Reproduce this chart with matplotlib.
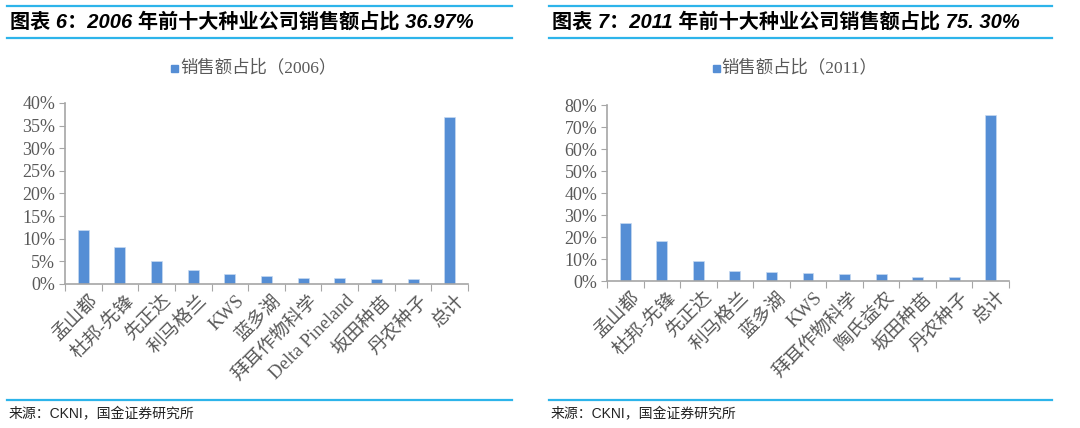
"""
Top-10 seed companies' sales share, 2006 vs 2011
"""
import matplotlib
matplotlib.use('Agg')
import matplotlib.pyplot as plt
from matplotlib.ticker import FuncFormatter
from matplotlib.lines import Line2D
from matplotlib.patches import Rectangle

plt.rcParams['font.family'] = ['Noto Sans CJK SC', 'DejaVu Sans']

# 2006 data
cats_2006 = ['孟山都', '杜邦-先锋', '先正达', '利马格兰', 'KWS', '蓝多湖',
             '拜耳作物科学', 'Delta Pineland', '坂田种苗', '丹农种子', '总计']
share_2006 = [11.9, 8.2, 5.1, 3.0, 2.2, 1.8, 1.3, 1.3, 1.1, 1.0, 36.97]

# 2011 data
cats_2011 = ['孟山都', '杜邦-先锋', '先正达', '利马格兰', '蓝多湖', 'KWS',
             '拜耳作物科学', '陶氏益农', '坂田种苗', '丹农种子', '总计']
share_2011 = [26.2, 18.3, 9.2, 4.7, 3.9, 3.5, 3.2, 3.0, 1.7, 1.6, 75.3]

BAR = '#558ED5'
LINE = '#2DB4EA'
GRAY = '#595959'
AXIS = '#A6A6A6'
SERIF_CJK = ['Liberation Serif', 'Noto Sans CJK SC']

fig = plt.figure(figsize=(10.8, 4.28), dpi=100)


def px_x(x):
    return x / 1080


def px_y(y):
    return 1 - y / 428


def draw_panel(rect, cats, vals, ymax, step, title, legend, x0, x1):
    ax = fig.add_axes(rect)
    xs = range(len(cats))
    ax.bar(xs, vals, width=0.3, color=BAR, edgecolor='#C6D9F1', linewidth=0.5)
    ax.set_xlim(-0.5, len(cats) - 0.5)
    ax.set_ylim(0, ymax)
    ax.set_yticks(range(0, ymax + 1, step))
    ax.yaxis.set_major_formatter(FuncFormatter(lambda v, p: f'{v:.0f}%'))
    for lab in ax.get_yticklabels():
        lab.set_family(['Liberation Serif'])
        lab.set_fontsize(13)
        lab.set_color(GRAY)
    ax.tick_params(axis='y', length=4, color=AXIS, pad=3)
    # category boundary ticks on x
    ax.set_xticks([i - 0.5 for i in range(len(cats) + 1)])
    ax.set_xticklabels([])
    ax.tick_params(axis='x', length=5, color=AXIS, direction='out')
    for i, c in enumerate(cats):
        ax.text(i + 0.15, -0.045 * ymax, c, rotation=45, rotation_mode='anchor',
                ha='right', va='top', fontsize=13.5, color=GRAY,
                family=SERIF_CJK)
    for s in ['top', 'right']:
        ax.spines[s].set_visible(False)
    for s in ['left', 'bottom']:
        ax.spines[s].set_color(AXIS)
        ax.spines[s].set_linewidth(1.2)

    # legend: square marker + label
    lx = rect[0] + rect[2] * 0.285
    fig.patches.append(Rectangle((lx - px_x(9), px_y(72)), px_x(7), 7 / 428,
                                 transform=fig.transFigure, color=BAR))
    fig.text(lx, px_y(68), legend, ha='left', va='center', fontsize=12.5,
             color=GRAY, family=SERIF_CJK)

    # header / footer rules and text
    for y in (6, 38, 400):
        fig.add_artist(Line2D([px_x(x0), px_x(x1)], [px_y(y), px_y(y)],
                              color=LINE, linewidth=1.6,
                              transform=fig.transFigure))
    fig.text(px_x(x0 + 3), px_y(22), title, ha='left', va='center',
             fontsize=14.5, fontweight='bold', style='italic', color='black',
             family=['Liberation Sans', 'Noto Sans CJK SC'])
    fig.text(px_x(x0 + 2), px_y(414), '来源：CKNI，国金证券研究所', ha='left',
             va='center', fontsize=10, color='#222222',
             family=['Liberation Sans', 'Noto Sans CJK SC'])
    return ax


draw_panel([px_x(65), px_y(284), px_x(403), (284 - 103) / 428],
           cats_2006, share_2006, 40, 5,
           '图表 6：2006 年前十大种业公司销售额占比 36.97%',
           '销售额占比（2006）', 7, 512)
draw_panel([px_x(607), px_y(281), px_x(402), (281 - 105) / 428],
           cats_2011, share_2011, 80, 10,
           '图表 7：2011 年前十大种业公司销售额占比 75. 30%',
           '销售额占比（2011）', 549, 1052)

plt.savefig('out.png', dpi=100)
plt.close()
